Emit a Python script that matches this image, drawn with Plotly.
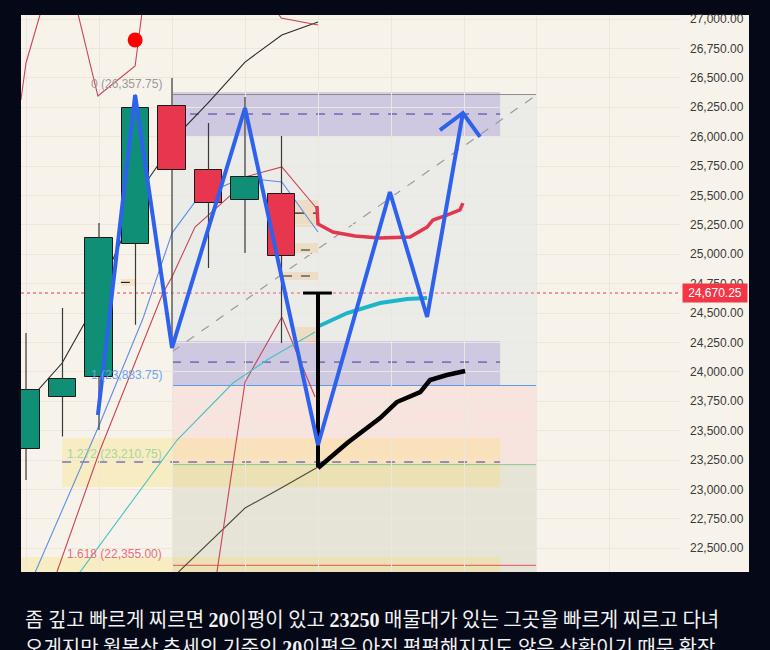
import plotly.graph_objects as go

# ---------------- data ----------------
bar_idx = [0, 1, 2, 3, 4, 5, 6, 7]
opens = [23344, 23786, 23956, 25087, 26260, 25716, 25461, 25512]
closes = [23845, 23939, 25138, 26243, 25716, 25435, 25656, 24985]
highs = [24330, 24543, 25265, 26357.75, 26498, 26116, 26337, 26005]
lows = [23080, 23450, 23505, 24400, 24260, 24883, 25010, 24245]

price_ticks = [22500 + 250 * i for i in range(19)]
tick_labels = [f"{v:,.2f}" for v in price_ticks]
last_price = 24670.25

fib_ratios = ["0", "1", "1.272", "1.618"]
fib_prices = [26357.75, 23883.75, 23210.75, 22355.00]
fib_x = [4.0, 14.0]
fib_trend_x = [4.0, 14.0]
fib_trend_y = [24170, 26358]

# thin moving averages (bar index, price)
ma_black1_x = [-0.14, 0.33, 0.99, 1.62, 3.37, 4.36, 4.99, 6.0, 7.01, 8.0]
ma_black1_y = [23777, 23845, 24075, 24424, 25648, 26082, 26286, 26634, 26864, 26974]
ma_black2_x = [3.95, 6.0, 7.04, 8.0]
ma_black2_y = [22230, 22842, 23021, 23191]
ma_blue_x = [0.16, 2.03, 3.21, 4.0, 4.63, 4.99, 5.67, 6.0, 7.01, 8.0]
ma_blue_y = [22230, 23565, 24458, 25180, 25444, 25520, 25614, 25648, 25614, 25189]
ma_red1_x = [0.77, 2.03, 3.75, 4.0, 4.63, 5.67, 6.0, 7.01, 8.0]
ma_red1_y = [22230, 23335, 24670, 24806, 25231, 25520, 25657, 25742, 25376]
ma_red2_x = [5.2, 6.0, 7.01, 7.92]
ma_red2_y = [22230, 23913, 24466, 23786]
ma_red3_x = [-0.14, 0.0, 0.66, 1.2, 1.97, 2.99, 3.26]
ma_red3_y = [26311, 26626, 27332, 27332, 26345, 26600, 27250]
ma_red4_x = [6.68, 6.99, 8.0]
ma_red4_y = [27160, 27008, 26949]
ma_teal_x = [1.32, 4.14, 5.67, 6.6, 7.92]
ma_teal_y = [22230, 23420, 23905, 24100, 24338]
red_dot = (2.99, 26821)

# hand drawings
zig_x = [1.97, 2.99, 4.0, 6.0, 8.0, 9.97, 10.99, 11.97]
zig_y = [23633, 26354, 24203, 26243, 23378, 25529, 24466, 26201]
arrow_x = [11.34, 11.97, 12.44]
arrow_y = [26056, 26201, 25997]
vline_x = [8.0, 8.0]
vline_y = [23191, 24670]
cap_x = [7.59, 8.38]
cap_y = [24670, 24670]
black_curve_x = [8.0, 8.8, 9.7, 10.16, 10.8, 11.07, 11.53, 12.03]
black_curve_y = [23182, 23395, 23607, 23743, 23828, 23930, 23973, 24007]
cyan_curve_x = [7.97, 8.8, 9.7, 10.44, 10.99]
cyan_curve_y = [24381, 24500, 24585, 24619, 24628]
red_curve_x = [7.97, 8.0, 8.41, 9.01, 9.7, 10.52, 10.99, 11.15, 11.53, 11.89, 11.97]
red_curve_y = [25410, 25257, 25189, 25155, 25138, 25146, 25231, 25291, 25333, 25376, 25435]

# zones: (x0, x1, p_low, p_high, p_mid)
purple_zones = [(4.0, 12.99, 25997, 26379, 26192), (4.0, 12.99, 23888, 24262, 24083)]
yellow_zones = [(0.99, 12.99, 23021, 23437, 23233), (-0.2, 12.99, 22150, 22425, None)]
orange_zones = [(7.37, 8.0, 25231, 25461, 25350), (7.04, 8.0, 25010, 25095, 25036),
                (7.04, 8.0, 24781, 24849, 24815), (7.3, 8.0, 24245, 24381, None),
                (2.6, 3.0, 24730, 24790, 24760)]

text_line1 = ("좀 깊고 빠르게 찌르면 <span style='font-family:Liberation Serif'><b>20</b></span>이평이 있고 "
              "<span style='font-family:Liberation Serif'><b>23250</b></span> 매물대가 있는 그곳을 빠르게 찌르고 다녀")
text_line2 = ("오게지만 월봉상 추세의 기준인 <span style='font-family:Liberation Serif'><b>20</b></span>이평은 "
              "아직 평평해지지도 않은 상황이기 때문 확장")

# ---------------- figure ----------------
BEIGE = "#f7f3ea"
fig = go.Figure()

def thin(x, y, color, width=1.1):
    fig.add_trace(go.Scatter(x=x, y=y, mode="lines", line=dict(color=color, width=width),
                             hoverinfo="skip", showlegend=False))

thin(ma_black1_x, ma_black1_y, "#2b2b2b")
thin(ma_black2_x, ma_black2_y, "#4a4a3a")
thin(ma_blue_x, ma_blue_y, "#5a8ee8")
thin(ma_red1_x, ma_red1_y, "#c8445a")
thin(ma_red2_x, ma_red2_y, "#c8445a")
thin(ma_red3_x, ma_red3_y, "#c8445a")
thin(ma_red4_x, ma_red4_y, "#c8445a")
thin(ma_teal_x, ma_teal_y, "#45c2c4")

# candles on overlay axes (drawn above thin MAs)
wx, wy = [], []
for i, o, c, h, l in zip(bar_idx, opens, closes, highs, lows):
    wx += [i, i, None, i, i, None]
    wy += [h, max(o, c), None, min(o, c), l, None]
fig.add_trace(go.Scatter(x=wx, y=wy, mode="lines", line=dict(color="#3a3a3a", width=1.2),
                         xaxis="x2", yaxis="y2", hoverinfo="skip", showlegend=False))
fig.add_trace(go.Bar(x=bar_idx, y=[abs(c - o) for o, c in zip(opens, closes)],
                     base=[min(o, c) for o, c in zip(opens, closes)], width=0.74,
                     marker=dict(color=["#0e8f76" if c >= o else "#e8364e" for o, c in zip(opens, closes)],
                                 line=dict(color="#1a1a1a", width=1)),
                     xaxis="x2", yaxis="y2", hoverinfo="skip", showlegend=False))

def thick(x, y, color, width=4):
    fig.add_trace(go.Scatter(x=x, y=y, mode="lines", line=dict(color=color, width=width),
                             xaxis="x2", yaxis="y2", hoverinfo="skip", showlegend=False))

thick(red_curve_x, red_curve_y, "#e2384f", 3.5)
thick(cyan_curve_x, cyan_curve_y, "#1cb6c6", 4)
thick(black_curve_x, black_curve_y, "#000000", 4.5)
thick(vline_x, vline_y, "#000000", 4)
thick(cap_x, cap_y, "#000000", 3)
thick(zig_x, zig_y, "#2f62ec", 4)
thick(arrow_x, arrow_y, "#2f62ec", 4)
fig.add_trace(go.Scatter(x=[red_dot[0]], y=[red_dot[1]], mode="markers",
                         marker=dict(color="#ff0000", size=15), xaxis="x2", yaxis="y2",
                         hoverinfo="skip", showlegend=False))

shapes = []
# fib background bands
shapes.append(dict(type="rect", xref="x", yref="y", x0=fib_x[0], x1=fib_x[1], y0=fib_prices[1], y1=fib_prices[0],
                   fillcolor="rgba(200,212,226,0.25)", line_width=0, layer="below"))
shapes.append(dict(type="rect", xref="x", yref="y", x0=fib_x[0], x1=fib_x[1], y0=fib_prices[2], y1=fib_prices[1],
                   fillcolor="rgba(255,160,175,0.18)", line_width=0, layer="below"))
shapes.append(dict(type="rect", xref="x", yref="y", x0=fib_x[0], x1=fib_x[1], y0=22150, y1=fib_prices[2],
                   fillcolor="rgba(165,172,140,0.2)", line_width=0, layer="below"))
for z in yellow_zones:
    shapes.append(dict(type="rect", xref="x", yref="y", x0=z[0], x1=z[1], y0=z[2], y1=z[3],
                       fillcolor="rgba(255,215,60,0.22)", line_width=0, layer="below"))
for z in purple_zones:
    shapes.append(dict(type="rect", xref="x", yref="y", x0=z[0], x1=z[1], y0=z[2], y1=z[3],
                       fillcolor="rgba(120,95,205,0.25)", line_width=0, layer="below"))
for z in orange_zones:
    shapes.append(dict(type="rect", xref="x", yref="y", x0=z[0], x1=z[1], y0=z[2], y1=z[3],
                       fillcolor="rgba(255,160,40,0.18)", line_width=0, layer="below"))
# fib lines
fib_colors = ["#8c8c8c", "#5f9be6", "#8cc88c", "#e2525f"]
for p, col in zip(fib_prices, fib_colors):
    shapes.append(dict(type="line", xref="x", yref="y", x0=fib_x[0], x1=fib_x[1], y0=p, y1=p,
                       line=dict(color=col, width=1), layer="below"))
shapes.append(dict(type="line", xref="x", yref="y", x0=fib_trend_x[0], x1=fib_trend_x[1],
                   y0=fib_trend_y[0], y1=fib_trend_y[1], line=dict(color="#9a9a9a", width=1.2, dash="dash"),
                   layer="below"))
for z in purple_zones + yellow_zones:
    if z[4] is not None:
        shapes.append(dict(type="line", xref="x", yref="y", x0=z[0], x1=z[1], y0=z[4], y1=z[4],
                           line=dict(color="#3f3a98", width=1, dash="dash"), layer="below"))
for z in orange_zones:
    if z[4] is not None:
        shapes.append(dict(type="line", xref="x", yref="y", x0=z[0], x1=z[1], y0=z[4], y1=z[4],
                           line=dict(color="#222222", width=1.2, dash="dash"), layer="below"))
# last price dotted line
shapes.append(dict(type="line", xref="paper", yref="y", x0=0, x1=1, y0=last_price, y1=last_price,
                   line=dict(color="#f23645", width=1, dash="dot"), layer="below"))
# price scale background
shapes.append(dict(type="rect", xref="paper", yref="paper", x0=1, x1=1.1047, y0=0, y1=1,
                   fillcolor=BEIGE, line_width=0, layer="below"))

annotations = []
fib_label_colors = ["#9a9a9a", "#6da4e8", "#a8d4a0", "#e86f7b"]
for r, p, col in zip(fib_ratios, fib_prices, fib_label_colors):
    annotations.append(dict(xref="x", yref="y", x=fib_x[0], y=p, xanchor="right", yanchor="bottom",
                            xshift=-8, yshift=2, text=f"{r} ({p:,.2f})", showarrow=False,
                            font=dict(family="Liberation Sans, Arial", size=12, color=col)))
annotations.append(dict(xref="paper", yref="y", x=1.003, y=last_price, xanchor="left", yanchor="middle",
                        text=f"{last_price:,.2f}", showarrow=False, bgcolor="#f23645",
                        borderpad=2, width=60, height=14,
                        font=dict(family="Liberation Sans, Arial", size=12, color="#ffffff")))
annotations.append(dict(xref="paper", yref="paper", x=0.003, y=-0.0826, xanchor="left", yanchor="middle",
                        text=text_line1, showarrow=False,
                        font=dict(family="Noto Sans CJK KR", size=20, color="#f2f2f2")))
annotations.append(dict(xref="paper", yref="paper", x=0.003, y=-0.1345, xanchor="left", yanchor="middle",
                        text=text_line2, showarrow=False,
                        font=dict(family="Noto Sans CJK KR", size=20, color="#f2f2f2")))

fig.update_layout(
    width=770, height=650,
    margin=dict(l=21, r=90, t=15, b=78),
    paper_bgcolor="#050816", plot_bgcolor=BEIGE,
    showlegend=False, bargap=0,
    shapes=shapes, annotations=annotations,
    xaxis=dict(range=[-0.137, 17.918], showticklabels=False, showgrid=True, gridcolor="#ece7dc",
               gridwidth=1, tick0=0, dtick=2, zeroline=False, ticks="", showline=False, fixedrange=True),
    yaxis=dict(range=[22298, 27034], side="right", tickvals=price_ticks, ticktext=tick_labels,
               showgrid=True, gridcolor="#ece7dc", gridwidth=1, zeroline=False, ticks="",
               ticklabelstandoff=9, showline=False,
               tickfont=dict(family="Liberation Sans, Arial", size=12, color="#3a3a3a")),
    xaxis2=dict(overlaying="x", matches="x", visible=False, range=[-0.137, 17.918]),
    yaxis2=dict(overlaying="y", matches="y", visible=False, range=[22298, 27034]),
)

fig.write_html("out.html")
